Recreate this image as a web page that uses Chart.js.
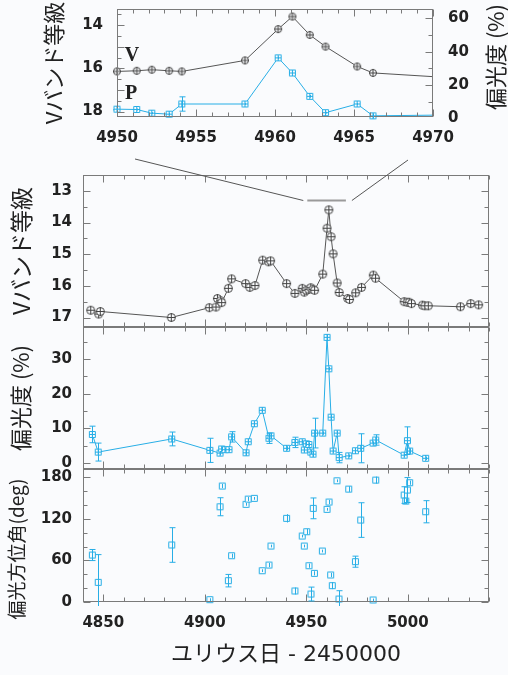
<!DOCTYPE html>
<html>
<head>
<meta charset="utf-8">
<script src="https://cdn.jsdelivr.net/npm/chart.js@4.4.1/dist/chart.umd.min.js"></script>
<style>
  html, body { margin: 0; padding: 0; background: #fafbfd; }
  #wrap { position: relative; width: 508px; height: 675px; }
  #wrap canvas { position: absolute; left: 0; top: 0; }
</style>
</head>
<body>
<div id="wrap">
  <canvas id="insetChart" width="508" height="675"></canvas>
  <canvas id="vChart" width="508" height="675"></canvas>
  <canvas id="pChart" width="508" height="675"></canvas>
  <canvas id="angChart" width="508" height="675"></canvas>
</div>
<script>
// V band light curve (JD - 2450000, magnitude)
const vDays = [4843.8, 4847.7, 4848.5, 4883.5, 4902.2, 4905.5, 4906.2, 4907.8, 4908.3, 4911.6,
  4913.2, 4920.1, 4922.2, 4924.7, 4928.5, 4931.4, 4932.4, 4940.3, 4944.4, 4948.0,
  4949.0, 4950.0, 4951.25, 4952.2, 4953.3, 4954.1, 4958.1, 4960.2, 4961.1, 4962.2,
  4963.2, 4965.2, 4966.2, 4970.4, 4971.3, 4974.3, 4977.2, 4983.0, 4984.1, 4998.2,
  4999.7, 5000.7, 5001.8, 5007.2, 5008.4, 5010.1, 5025.9, 5031.0, 5034.9];
const vMag = [16.77, 16.89, 16.81, 17.0, 16.69, 16.67, 16.40, 16.47, 16.53, 16.08,
  15.78, 15.93, 16.05, 15.99, 15.19, 15.24, 15.21, 15.93, 16.24, 16.08,
  16.20, 16.14, 16.11, 16.06, 16.11, 16.14, 15.63, 14.18, 13.60, 14.45,
  14.99, 15.91, 16.21, 16.40, 16.43, 16.22, 16.05, 15.66, 15.76, 16.50,
  16.52, 16.52, 16.56, 16.61, 16.63, 16.63, 16.66, 16.56, 16.60];

// polarization degree (%)
const pDays = [4844.6, 4847.5, 4883.7, 4902.5, 4907.5, 4908.3, 4909.9, 4911.9, 4913.2, 4920.3,
  4921.4, 4924.4, 4928.3, 4931.6, 4932.6, 4940.3, 4944.4, 4948.0, 4949.0, 4950.0,
  4951.25, 4952.2, 4953.3, 4954.1, 4958.1, 4960.2, 4961.1, 4962.2, 4963.2, 4965.2,
  4966.2, 4970.9, 4974.2, 4976.8, 4982.9, 4984.2, 4998.2, 4999.8, 5000.9, 5008.8];
const pVal = [8.2, 3.1, 6.9, 3.6, 2.8, 4.0, 3.8, 3.8, 7.5, 2.9,
  6.1, 11.3, 15.2, 7.1, 7.8, 4.2, 5.9, 6.1, 3.7, 5.5,
  5.3, 3.1, 2.5, 8.6, 8.6, 36.3, 27.2, 13.2, 3.4, 8.6,
  1.5, 2.0, 3.5, 4.2, 5.7, 6.6, 2.2, 6.4, 3.4, 1.3];
const pErr = [2.4, 2.6, 2.0, 3.5, 0.6, 0.6, 0.5, 0.5, 1.5, 0.8,
  0.8, 0.6, 0.6, 1.5, 0.8, 0.6, 1.5, 0.5, 0.6, 0.6,
  0.6, 0.6, 0.8, 4.3, 0.5, 0.8, 0.5, 0.8, 0.5, 0.6,
  1.5, 0.4, 0.6, 4.2, 0.5, 1.5, 0.5, 4.0, 0.8, 0.5];

// polarization position angle (deg)
const angDays = [4844.6, 4847.5, 4883.7, 4902.5, 4907.5, 4908.6, 4911.6, 4913.2, 4920.3, 4921.4,
  4924.4, 4928.3, 4931.6, 4932.6, 4940.3, 4944.4, 4948.0, 4949.0, 4950.2, 4951.3,
  4952.3, 4953.4, 4954.0, 4957.9, 4960.2, 4961.2, 4962.0, 4962.8, 4965.1, 4966.1,
  4970.9, 4974.2, 4976.8, 4982.9, 4984.2, 4998.2, 4999.0, 4999.8, 5000.9, 5008.8];
const angVal = [67.8, 28.4, 82.3, 3.4, 137.5, 167.4, 30.8, 66.8, 141, 148.6,
  149.6, 45.2, 53.4, 80.8, 120.8, 15.9, 95.2, 80.8, 101.5, 52.4,
  11.5, 135.2, 41.4, 73.6, 133.8, 144.3, 39, 23.6, 175, 4.3,
  163, 58.2, 118.3, 2.9, 176, 154.4, 145.7, 161.6, 172.2, 130.3];
const angErr = [8, 40, 25, 2, 13, 3, 9, 3, 2, 3,
  2, 2, 3, 2, 6, 5, 2, 2, 4, 3,
  10, 15, 3, 2, 2, 3, 3, 5, 2, 12,
  4, 8, 25, 2, 5, 12, 4, 18, 3, 16];

const mainTicksX = [4850, 4900, 4950, 5000];
const insetTicksX = [4950, 4955, 4960, 4965, 4970];

const CYAN = '#27aee6';
const DARK = '#444444';
const BG = '#fafbfd';
const tickFont = { family: 'DejaVu Sans', weight: 'bold', size: 15 };
const jpFont = "'Noto Sans CJK JP', 'DejaVu Sans', sans-serif";
const plainLabel = v => String(v);

const pts = (xs, ys) => xs.map((x, i) => ({ x: x, y: ys[i] }));

function marker(shape, size, color, cross) {
  const c = document.createElement('canvas');
  c.width = c.height = size + 2;
  const g = c.getContext('2d');
  const m = (size + 2) / 2, r = size / 2;
  g.strokeStyle = color;
  g.fillStyle = BG;
  g.lineWidth = 1;
  g.beginPath();
  if (shape === 'circle') g.arc(m, m, r - 0.5, 0, Math.PI * 2);
  else g.rect(m - r + 0.5, m - r + 0.5, size - 1, size - 1);
  g.fill();
  if (cross) {
    g.moveTo(m, m - r); g.lineTo(m, m + r);
    g.moveTo(m - r, m); g.lineTo(m + r, m);
  }
  g.stroke();
  return c;
}

// box + inward ticks on every side
const framePlugin = {
  id: 'frame',
  afterDatasetsDraw(chart, args, opts) {
    const { ctx, chartArea: a } = chart;
    ctx.save();
    ctx.strokeStyle = '#7a7a7a';
    ctx.lineWidth = 1;
    const L = Math.round(a.left) + 0.5, R = Math.round(a.right) - 0.5;
    const T = Math.round(a.top) + 0.5, B = Math.round(a.bottom) - 0.5;
    ctx.strokeRect(L, T, R - L, B - T);
    (opts.axes || []).forEach(ax => {
      const s = chart.scales[ax.id];
      const n0 = Math.ceil(s.min / ax.minor - 1e-6), n1 = Math.floor(s.max / ax.minor + 1e-6);
      for (let n = n0; n <= n1; n++) {
        const v = n * ax.minor;
        const q = v / ax.major;
        const len = Math.abs(q - Math.round(q)) < 1e-6 ? 7 : 4;
        const p = Math.round(s.getPixelForValue(v)) + 0.5;
        ctx.beginPath();
        ax.sides.forEach(side => {
          if (side === 'bottom') { ctx.moveTo(p, B); ctx.lineTo(p, B - len); }
          if (side === 'top') { ctx.moveTo(p, T); ctx.lineTo(p, T + len); }
          if (side === 'left') { ctx.moveTo(L, p); ctx.lineTo(L + len, p); }
          if (side === 'right') { ctx.moveTo(R, p); ctx.lineTo(R - len, p); }
        });
        ctx.stroke();
      }
    });
    ctx.restore();
  }
};

// vertical error bars, values kept on the dataset as `errors`
const errorBarPlugin = {
  id: 'errorBars',
  afterDatasetsDraw(chart) {
    const { ctx, chartArea: a } = chart;
    chart.data.datasets.forEach((ds, di) => {
      if (!ds.errors) return;
      const meta = chart.getDatasetMeta(di);
      const ys = chart.scales[meta.yAxisID];
      ctx.save();
      ctx.beginPath();
      ctx.rect(a.left - 4, a.top - 2, a.width + 6, a.height + 6);
      ctx.clip();
      ctx.strokeStyle = ds.borderColor;
      ctx.lineWidth = 1;
      meta.data.forEach((pt, i) => {
        const v = ds.data[i].y, e = ds.errors[i];
        const y1 = ys.getPixelForValue(v + e), y2 = ys.getPixelForValue(v - e);
        const x = Math.round(pt.x) + 0.5;
        ctx.beginPath();
        ctx.moveTo(x, y1); ctx.lineTo(x, y2);
        if (Math.abs(y2 - y1) > 9) {
          ctx.moveTo(x - 3, y1); ctx.lineTo(x + 3, y1);
          ctx.moveTo(x - 3, y2); ctx.lineTo(x + 3, y2);
        }
        ctx.stroke();
      });
      ctx.restore();
    });
  }
};

// free text: rotated axis titles and series labels
const textPlugin = {
  id: 'extraText',
  afterDraw(chart, args, opts) {
    const ctx = chart.ctx;
    (opts.items || []).forEach(t => {
      ctx.save();
      ctx.translate(t.x, t.y);
      ctx.rotate(t.rot || 0);
      ctx.font = t.font;
      ctx.fillStyle = '#222';
      ctx.textAlign = 'center';
      ctx.textBaseline = 'middle';
      ctx.fillText(t.text, 0, 0);
      ctx.restore();
    });
  }
};

// marks the zoomed range on the main light curve
const zoomMarkPlugin = {
  id: 'zoomMark',
  afterDraw(chart, args, opts) {
    if (!opts.range) return;
    const { ctx, scales } = chart;
    const x1 = scales.x.getPixelForValue(opts.range[0]);
    const x2 = scales.x.getPixelForValue(opts.range[1]);
    const yy = Math.round(scales.y.getPixelForValue(opts.level)) + 0.5;
    ctx.save();
    ctx.strokeStyle = '#9a9a9a';
    ctx.lineWidth = 2;
    ctx.beginPath();
    ctx.moveTo(x1 + 1, yy); ctx.lineTo(x2 - 1, yy);
    ctx.stroke();
    ctx.strokeStyle = '#555';
    ctx.lineWidth = 1;
    ctx.beginPath();
    ctx.moveTo(x1 - 3, yy); ctx.lineTo(135, 159);
    ctx.moveTo(x2 + 5, yy); ctx.lineTo(408, 160);
    ctx.stroke();
    ctx.restore();
  }
};

function setTicks(list) {
  return s => { s.ticks = list.map(v => ({ value: v })); };
}
function fixWidth(w) {
  return s => { s.width = w; s.paddingTop = 0; s.paddingBottom = 0; };
}
function fixHeight(h) {
  return s => { s.height = h; s.paddingLeft = 0; s.paddingRight = 0; };
}
const noGrid = { display: false, drawTicks: false };
const noBorder = { display: false };

function baseOptions(padding) {
  return {
    responsive: false,
    animation: false,
    events: [],
    layout: { padding: padding },
    plugins: { legend: { display: false }, tooltip: { enabled: false } }
  };
}

// ---- inset: zoom of JD 4950-4970 ----
const insetOpts = baseOptions({ left: 0, right: 0, top: 9, bottom: 518 });
insetOpts.plugins.frame = { axes: [
  { id: 'x', minor: 1, major: 5, sides: ['top', 'bottom'] },
  { id: 'y', minor: 0.5, major: 1, sides: ['left'] },
  { id: 'y2', minor: 10, major: 20, sides: ['right'] }
] };
insetOpts.plugins.extraText = { items: [
  { text: '偏光度 (%)', x: 496, y: 57, rot: -Math.PI / 2, font: '22px ' + jpFont },
  { text: 'V', x: 132, y: 56, font: 'bold 20px "Liberation Serif"' },
  { text: 'P', x: 131, y: 94, font: 'bold 20px "Liberation Serif"' }
] };
insetOpts.scales = {
  x: { type: 'linear', min: 4950, max: 4970, grid: noGrid, border: noBorder,
    ticks: { font: tickFont, color: '#222', padding: 12, autoSkip: false, callback: plainLabel },
    afterBuildTicks: setTicks(insetTicksX), afterFit: fixHeight(40) },
  y: { position: 'left', reverse: true, min: 13.25, max: 18.25, grid: noGrid, border: noBorder,
    ticks: { font: tickFont, color: '#222', padding: 14, callback: plainLabel },
    afterBuildTicks: setTicks([14, 16, 18]), afterFit: fixWidth(117),
    title: { display: true, text: 'Vバンド等級', color: '#222',
      font: { family: jpFont, size: 22 }, padding: { top: 40, bottom: 0 } } },
  y2: { position: 'right', min: 0.8, max: 65.6, grid: noGrid, border: noBorder,
    ticks: { font: tickFont, color: '#222', padding: 15, callback: plainLabel },
    afterBuildTicks: setTicks([0, 20, 40, 60]), afterFit: fixWidth(75) }
};
new Chart(document.getElementById('insetChart'), {
  type: 'scatter',
  data: { datasets: [
    { data: pts(vDays, vMag), yAxisID: 'y', showLine: true, borderColor: '#555', borderWidth: 1,
      pointStyle: marker('circle', 8, DARK, true), pointRadius: 4, clip: { left: 4, top: 2, right: 0, bottom: 4 } },
    { data: pts(pDays, pVal), errors: pErr, yAxisID: 'y2', showLine: true, borderColor: CYAN, borderWidth: 1,
      pointStyle: marker('square', 7, CYAN, true), pointRadius: 4, clip: { left: 4, top: 2, right: 0, bottom: 4 } }
  ] },
  options: insetOpts,
  plugins: [framePlugin, errorBarPlugin, textPlugin]
});

// ---- main V light curve ----
const vOpts = baseOptions({ left: 0, right: 19, top: 175, bottom: 348 });
vOpts.plugins.frame = { axes: [
  { id: 'x', minor: 10, major: 50, sides: ['top', 'bottom'] },
  { id: 'y', minor: 0.5, major: 1, sides: ['left', 'right'] }
] };
vOpts.plugins.zoomMark = { range: [4950, 4970], level: 13.3 };
vOpts.scales = {
  x: { type: 'linear', display: false, min: 4840, max: 5040 },
  y: { position: 'left', reverse: true, min: 12.5, max: 17.3, grid: noGrid, border: noBorder,
    ticks: { font: tickFont, color: '#222', padding: 11, callback: plainLabel },
    afterBuildTicks: setTicks([13, 14, 15, 16, 17]), afterFit: fixWidth(83),
    title: { display: true, text: 'Vバンド等級', color: '#222',
      font: { family: jpFont, size: 23 }, padding: { top: 7, bottom: 0 } } }
};
new Chart(document.getElementById('vChart'), {
  type: 'scatter',
  data: { datasets: [
    { data: pts(vDays, vMag), showLine: true, borderColor: '#555', borderWidth: 1,
      pointStyle: marker('circle', 9, DARK, true), pointRadius: 4 }
  ] },
  options: vOpts,
  plugins: [framePlugin, zoomMarkPlugin]
});

// ---- main polarization degree ----
const pOpts = baseOptions({ left: 0, right: 19, top: 327, bottom: 206 });
pOpts.plugins.frame = { axes: [
  { id: 'x', minor: 10, major: 50, sides: ['top', 'bottom'] },
  { id: 'y', minor: 5, major: 10, sides: ['left', 'right'] }
] };
pOpts.scales = {
  x: { type: 'linear', display: false, min: 4840, max: 5040 },
  y: { position: 'left', min: -1.8, max: 39.3, grid: noGrid, border: noBorder,
    ticks: { font: tickFont, color: '#222', padding: 11, callback: plainLabel },
    afterBuildTicks: setTicks([0, 10, 20, 30]), afterFit: fixWidth(83),
    title: { display: true, text: '偏光度 (%)', color: '#222',
      font: { family: jpFont, size: 22 }, padding: { top: 7, bottom: 0 } } }
};
new Chart(document.getElementById('pChart'), {
  type: 'scatter',
  data: { datasets: [
    { data: pts(pDays, pVal), errors: pErr, showLine: true, borderColor: CYAN, borderWidth: 1,
      pointStyle: marker('square', 7, CYAN, true), pointRadius: 4, clip: 4 }
  ] },
  options: pOpts,
  plugins: [framePlugin, errorBarPlugin]
});

// ---- main position angle ----
const aOpts = baseOptions({ left: 0, right: 19, top: 469, bottom: 5 });
aOpts.plugins.frame = { axes: [
  { id: 'x', minor: 10, major: 50, sides: ['top', 'bottom'] },
  { id: 'y', minor: 20, major: 60, sides: ['left', 'right'] }
] };
aOpts.plugins.extraText = { items: [
  { text: '偏光方位角(deg)', x: 17, y: 549, rot: -Math.PI / 2, font: '19px ' + jpFont }
] };
aOpts.scales = {
  x: { type: 'linear', min: 4840, max: 5040, grid: noGrid, border: noBorder,
    ticks: { font: tickFont, color: '#222', padding: 12, autoSkip: false, callback: plainLabel },
    afterBuildTicks: setTicks(mainTicksX), afterFit: fixHeight(68),
    title: { display: true, text: 'ユリウス日 - 2450000', color: '#222',
      font: { family: "'DejaVu Sans', 'Noto Sans CJK JP', sans-serif", size: 22 },
      padding: { top: 0, bottom: 2 } } },
  y: { position: 'left', min: 0, max: 192, grid: noGrid, border: noBorder,
    ticks: { font: tickFont, color: '#222', padding: 11, callback: plainLabel },
    afterBuildTicks: setTicks([0, 60, 120, 180]), afterFit: fixWidth(83) }
};
new Chart(document.getElementById('angChart'), {
  type: 'scatter',
  data: { datasets: [
    { data: pts(angDays, angVal), errors: angErr, showLine: false, borderColor: CYAN, borderWidth: 1,
      pointStyle: marker('square', 7, CYAN, false), pointRadius: 4, clip: 4 }
  ] },
  options: aOpts,
  plugins: [framePlugin, errorBarPlugin, textPlugin]
});
</script>
</body>
</html>
